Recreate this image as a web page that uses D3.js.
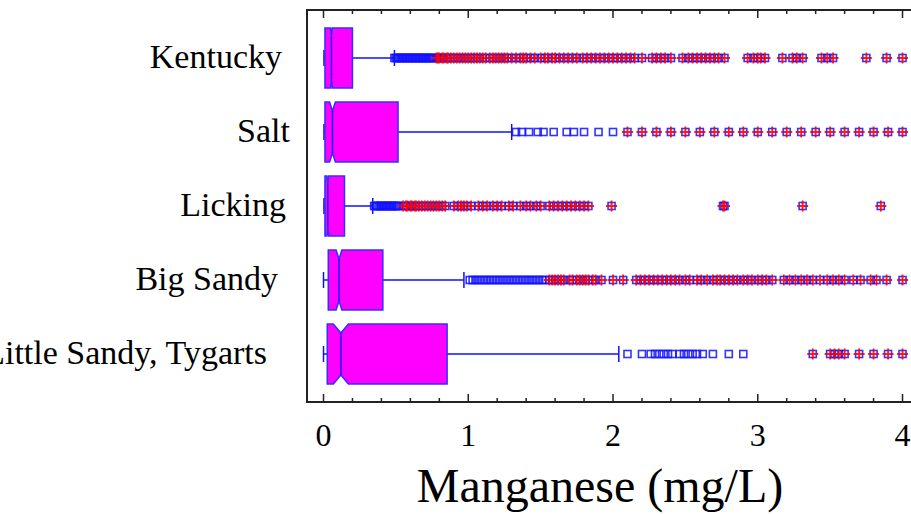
<!DOCTYPE html>
<html>
<head>
<meta charset="utf-8">
<script src="https://cdn.jsdelivr.net/npm/d3@7"></script>
<style>
  body { margin: 0; background: #fff; }
  text { font-family: "Liberation Serif", "Times New Roman", serif; fill: #000; }
</style>
</head>
<body>
<div id="chart"></div>
<script>
// categories, top to bottom
var rivers = ["Kentucky", "Salt", "Licking", "Big Sandy", "Little Sandy, Tygarts"];

// box statistics (mg/L)
var whiskerLo = [0.003, 0.003, 0.003, 0.0, 0.0];
var q1 = [0.01, 0.01, 0.01, 0.033, 0.026];
var median = [0.055, 0.062, 0.03, 0.107, 0.12];
var q3 = [0.2, 0.515, 0.145, 0.41, 0.854];
var whiskerHi = [0.49, 1.3, 0.34, 0.97, 2.04];
var notchHalf = [0.006, 0.02, 0.006, 0.02, 0.052];

// outliers per river
var outKentucky = [0.49, 0.5, 0.51, 0.52, 0.53, 0.54, 0.55, 0.56, 0.57, 0.58, 0.59, 0.6, 0.61, 0.62, 0.63, 0.64,
  0.65, 0.66, 0.67, 0.68, 0.69, 0.7, 0.71, 0.72, 0.73, 0.74, 0.75, 0.76,
  0.78, 0.79, 0.8, 0.82, 0.83, 0.85, 0.86, 0.88, 0.9, 0.92, 0.94, 0.96, 0.98, 1.0, 1.02, 1.04, 1.06, 1.08, 1.1,
  1.12, 1.15, 1.17, 1.19, 1.21, 1.23, 1.25, 1.27, 1.3, 1.33, 1.36, 1.38, 1.4, 1.43, 1.46, 1.5, 1.53, 1.55, 1.58,
  1.6, 1.63, 1.66, 1.69, 1.72, 1.75, 1.79, 1.82, 1.85, 1.88, 1.91, 1.94, 1.97, 2.0, 2.03, 2.06, 2.09, 2.12, 2.15,
  2.2, 2.27, 2.3, 2.33, 2.36, 2.4, 2.48, 2.52, 2.55, 2.58, 2.61, 2.64, 2.67, 2.7, 2.73, 2.77, 2.93, 2.97, 3.0,
  3.02, 3.05, 3.17, 3.24, 3.27, 3.31, 3.44, 3.48, 3.52, 3.75, 3.89, 4.0];
var outSalt = [1.33, 1.37, 1.42, 1.48, 1.52, 1.59, 1.68, 1.73, 1.8, 1.9, 2.0,
  2.1, 2.2, 2.3, 2.4, 2.5, 2.6, 2.7, 2.8, 2.9, 3.0, 3.1, 3.2, 3.3, 3.4, 3.5, 3.6, 3.7, 3.8, 3.9, 4.0];
var outLicking = [0.35, 0.36, 0.37, 0.38, 0.39, 0.4, 0.41, 0.42, 0.43, 0.44, 0.45, 0.46, 0.47, 0.48, 0.49, 0.5,
  0.51, 0.52, 0.55, 0.57, 0.58, 0.6, 0.61, 0.63, 0.64, 0.66, 0.68, 0.7, 0.72, 0.74, 0.76, 0.78, 0.8, 0.82, 0.84,
  0.9, 0.93, 0.95, 0.97, 0.99, 1.02, 1.07, 1.1, 1.13, 1.17, 1.2, 1.23, 1.28, 1.31, 1.36, 1.4, 1.43, 1.47, 1.5,
  1.56, 1.59, 1.62, 1.65, 1.68, 1.71, 1.74, 1.77, 1.8, 1.83, 1.99, 2.76, 2.77, 3.31, 3.85];
var outBigSandy = [1.01, 1.03, 1.05, 1.07, 1.09, 1.11, 1.13, 1.15, 1.17, 1.19, 1.21, 1.23, 1.25, 1.27, 1.29,
  1.31, 1.33, 1.35, 1.37, 1.39, 1.41, 1.43, 1.45, 1.47, 1.49, 1.51, 1.53,
  1.56, 1.58, 1.6, 1.62, 1.64, 1.66, 1.7, 1.72, 1.75, 1.77, 1.79, 1.81, 1.83, 1.86, 1.88, 1.92, 2.0, 2.07,
  2.16, 2.19, 2.22, 2.25, 2.28, 2.31, 2.34, 2.37, 2.4, 2.43, 2.46, 2.5, 2.53, 2.58, 2.61, 2.65, 2.69, 2.72,
  2.74, 2.77, 2.8, 2.83, 2.86, 2.9, 2.93, 2.96, 3.0, 3.03, 3.06, 3.1, 3.18, 3.22, 3.26, 3.3, 3.34, 3.38, 3.43,
  3.48, 3.52, 3.56, 3.6, 3.66, 3.71, 3.78, 3.82, 3.89, 4.0];
var outLittleSandy = [2.1, 2.2, 2.26, 2.29, 2.32, 2.35, 2.38, 2.41, 2.46, 2.49, 2.52, 2.55, 2.58, 2.62, 2.69,
  2.8, 2.9, 3.38, 3.5, 3.53, 3.56, 3.6, 3.7, 3.8, 3.9, 4.0];
var outliers = [outKentucky, outSalt, outLicking, outBigSandy, outLittleSandy];

var xTicks = [0, 1, 2, 3, 4];

// label placement tweaks (px, right edge of each river name)
var labelRight = [282, 290, 286, 278, 267];

var width = 911, height = 514;
var plot = {left: 307, top: 10, right: 917, bottom: 402};

var svg = d3.select("#chart").append("svg")
    .attr("width", width)
    .attr("height", height);

var x = d3.scaleLinear()
    .domain([-0.114, 4.1])
    .range([plot.left, plot.right]);

var y = d3.scalePoint()
    .domain(rivers)
    .range([58, 354]);

var halfH = 30, notchDepth = 9, capH = 8;
var blue = "#1010ff", magenta = "#ff00ff", red = "#ff0000";

// boxes
rivers.forEach(function(r, i) {
  var cy = y(r);
  var g = svg.append("g");

  // whiskers
  g.append("line")
      .attr("x1", x(whiskerLo[i])).attr("x2", x(q1[i]))
      .attr("y1", cy).attr("y2", cy)
      .attr("stroke", blue).attr("stroke-width", 1.5);
  g.append("line")
      .attr("x1", x(q3[i])).attr("x2", x(whiskerHi[i]))
      .attr("y1", cy).attr("y2", cy)
      .attr("stroke", blue).attr("stroke-width", 1.5);
  [whiskerLo[i], whiskerHi[i]].forEach(function(v) {
    g.append("line")
        .attr("x1", x(v)).attr("x2", x(v))
        .attr("y1", cy - capH).attr("y2", cy + capH)
        .attr("stroke", blue).attr("stroke-width", 1.5);
  });

  // notched box
  var nl = x(median[i] - notchHalf[i]), nr = x(median[i] + notchHalf[i]);
  var xm = x(median[i]), xl = x(q1[i]), xr = x(q3[i]);
  var pts = [
    [xl, cy - halfH], [nl, cy - halfH], [xm, cy - halfH + notchDepth], [nr, cy - halfH],
    [xr, cy - halfH], [xr, cy + halfH], [nr, cy + halfH], [xm, cy + halfH - notchDepth],
    [nl, cy + halfH], [xl, cy + halfH]
  ];
  g.append("path")
      .attr("d", d3.line()(pts) + "Z")
      .attr("fill", magenta)
      .attr("stroke", "#3030ff")
      .attr("stroke-width", 1.5);
  g.append("line")
      .attr("x1", xm).attr("x2", xm)
      .attr("y1", cy - halfH + notchDepth).attr("y2", cy + halfH - notchDepth)
      .attr("stroke", blue).attr("stroke-width", 1.5);

  // outliers: far ones (beyond Q3 + 3 IQR) also get a red cross
  var farLimit = q3[i] + 3 * (q3[i] - q1[i]);
  g.selectAll(".sq")
      .data(outliers[i])
    .enter().append("rect")
      .attr("x", function(d) { return x(d) - 3.5; })
      .attr("y", cy - 3.5)
      .attr("width", 7).attr("height", 7)
      .attr("fill", "none")
      .attr("stroke", blue)
      .attr("stroke-opacity", 0.85)
      .attr("stroke-width", 1.6);
  g.selectAll(".cross")
      .data(outliers[i].filter(function(d) { return d > farLimit; }))
    .enter().append("path")
      .attr("d", function(d) {
        var px = x(d);
        return "M" + (px - 5.5) + "," + cy + "H" + (px + 5.5) +
               "M" + px + "," + (cy - 5.5) + "V" + (cy + 5.5);
      })
      .attr("stroke", red)
      .attr("stroke-opacity", 0.9)
      .attr("stroke-width", 1.8);

  // river name
  svg.append("text")
      .attr("x", labelRight[i])
      .attr("y", cy + 10)
      .attr("text-anchor", "end")
      .style("font-size", "34px")
      .text(r);
});

// frame
svg.append("rect")
    .attr("x", plot.left).attr("y", plot.top)
    .attr("width", plot.right - plot.left)
    .attr("height", plot.bottom - plot.top)
    .attr("fill", "none")
    .attr("stroke", "#222")
    .attr("stroke-width", 2);

// ticks on top and bottom, pointing inward
var minor = d3.range(0, 4.01, 0.2);
var tickG = svg.append("g").attr("stroke", "#222").attr("stroke-width", 1.5);
minor.forEach(function(v) {
  var isMajor = Math.abs(v - Math.round(v)) < 1e-6;
  var len = isMajor ? 8 : 4;
  tickG.append("line")
      .attr("x1", x(v)).attr("x2", x(v))
      .attr("y1", plot.bottom).attr("y2", plot.bottom - len);
  tickG.append("line")
      .attr("x1", x(v)).attr("x2", x(v))
      .attr("y1", plot.top).attr("y2", plot.top + len);
});

svg.selectAll(".tickLabel")
    .data(xTicks)
  .enter().append("text")
    .attr("x", function(d) { return x(d); })
    .attr("y", 446)
    .attr("text-anchor", "middle")
    .style("font-size", "32px")
    .text(function(d) { return d; });

svg.append("text")
    .attr("x", 600)
    .attr("y", 502)
    .attr("text-anchor", "middle")
    .style("font-size", "48px")
    .text("Manganese (mg/L)");
</script>
</body>
</html>
